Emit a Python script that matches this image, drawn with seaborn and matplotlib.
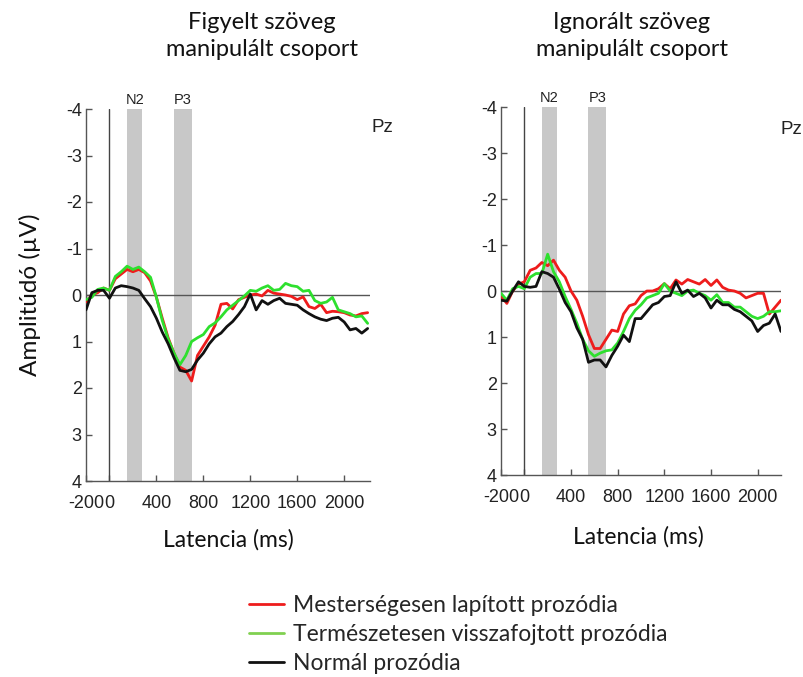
import numpy as np
import pandas as pd
import matplotlib
matplotlib.use("Agg")
import matplotlib.pyplot as plt
import seaborn as sns
from matplotlib.lines import Line2D

sns.set_theme(style="white")
plt.rcParams['axes.unicode_minus'] = False
plt.rcParams['font.family'] = ['Liberation Sans', 'DejaVu Sans']

times = list(range(-200, 2201, 50))

left_red = [0.15, 0.0, -0.05, -0.15, -0.1, -0.35, -0.45, -0.55, -0.5, -0.55, -0.48, -0.3, 0.05,
            0.5, 0.92, 1.25, 1.55, 1.62, 1.85, 1.3, 1.1, 0.9, 0.65, 0.2, 0.18, 0.3, 0.1, 0.05,
            0.0, -0.02, 0.02, -0.1, -0.04, -0.02, 0.0, 0.03, 0.1, 0.04, 0.25, 0.29, 0.2, 0.38,
            0.35, 0.36, 0.38, 0.43, 0.45, 0.4, 0.38]
left_green = [0.1, 0.05, -0.12, -0.15, -0.1, -0.4, -0.5, -0.62, -0.55, -0.6, -0.5, -0.38, 0.05,
              0.55, 0.95, 1.25, 1.5, 1.3, 1.0, 0.92, 0.85, 0.68, 0.6, 0.47, 0.32, 0.22, 0.12, 0.02,
              -0.1, -0.08, -0.15, -0.2, -0.1, -0.12, -0.25, -0.2, -0.18, -0.08, -0.1, 0.12, 0.18,
              0.15, 0.05, 0.32, 0.36, 0.4, 0.47, 0.45, 0.61]
left_black = [0.32, -0.05, -0.1, -0.1, 0.07, -0.15, -0.2, -0.18, -0.15, -0.1, 0.08, 0.25, 0.5,
              0.8, 1.05, 1.35, 1.62, 1.65, 1.6, 1.4, 1.25, 1.05, 0.9, 0.82, 0.68, 0.57, 0.42, 0.25,
              -0.02, 0.32, 0.12, 0.2, 0.12, 0.07, 0.18, 0.2, 0.22, 0.32, 0.4, 0.47, 0.52, 0.55,
              0.5, 0.48, 0.58, 0.75, 0.72, 0.82, 0.72]

right_red = [0.1, 0.27, 0.0, -0.15, -0.2, -0.45, -0.5, -0.62, -0.55, -0.67, -0.45, -0.3, 0.0,
             0.2, 0.55, 0.95, 1.25, 1.25, 1.05, 0.85, 0.88, 0.5, 0.32, 0.28, 0.1, 0.0, 0.0, -0.05,
             -0.16, -0.05, -0.24, -0.15, -0.25, -0.2, -0.15, -0.25, -0.12, -0.24, -0.08, -0.02,
             0.0, 0.05, 0.15, 0.1, 0.05, 0.05, 0.5, 0.35, 0.2]
right_green = [0.05, 0.2, -0.05, -0.1, -0.05, -0.3, -0.38, -0.38, -0.8, -0.42, -0.2, 0.12, 0.4,
               0.7, 1.05, 1.3, 1.42, 1.35, 1.3, 1.28, 1.13, 0.88, 0.6, 0.42, 0.3, 0.15, 0.1, 0.05,
               -0.16, 0.0, 0.05, 0.1, 0.0, -0.02, 0.05, 0.1, 0.2, 0.08, 0.25, 0.25, 0.35, 0.35,
               0.45, 0.55, 0.6, 0.55, 0.45, 0.45, 0.43]
right_black = [0.2, 0.22, 0.0, -0.2, -0.1, -0.08, -0.1, -0.42, -0.38, -0.3, -0.04, 0.25, 0.45,
               0.8, 1.05, 1.55, 1.5, 1.5, 1.65, 1.4, 1.2, 0.96, 1.1, 0.6, 0.6, 0.45, 0.3, 0.25,
               0.12, 0.1, -0.2, 0.05, -0.02, 0.12, 0.05, 0.15, 0.37, 0.2, 0.3, 0.3, 0.4, 0.45,
               0.55, 0.65, 0.88, 0.75, 0.7, 0.5, 0.88]

conditions = ["Mesterségesen lapított prozódia",
              "Természetesen visszafojtott prozódia",
              "Normál prozódia"]
line_colors = ["#ee1c1c", "#2ee02e", "#111111"]
legend_colors = ["#ee1c1c", "#80d050", "#111111"]
titles = ["Figyelt szöveg\nmanipulált csoport", "Ignorált szöveg\nmanipulált csoport"]
xticks = [-200, 0, 400, 800, 1200, 1600, 2000]
yticks = [-4, -3, -2, -1, 0, 1, 2, 3, 4]
bands = {"N2": (150, 280), "P3": (550, 700)}

def make_df(r, g, b):
    rows = []
    for cond, vals in zip(conditions, [r, g, b]):
        for t, v in zip(times, vals):
            rows.append({"t": t, "v": v, "cond": cond})
    return pd.DataFrame(rows)

dfs = [make_df(left_red, left_green, left_black), make_df(right_red, right_green, right_black)]

fig = plt.figure(figsize=(8.04, 6.77), dpi=100)
ax_l = fig.add_axes([86/804, 1-481/677, 284/804, 372/677])
ax_r = fig.add_axes([501/804, 1-475/677, 280/804, 368/677])
xmax = [2220, 2200]
title_x = [262/804, 632/804]
pz_pos = [(372/804, 1-127/677), (781/804, 1-130/677)]
xlabel_y = [1-540/677, 1-537/677]
xlabel_x = [228/804, 638/804]
calibri_like = ["Lato", "DejaVu Sans"]

for i, ax in enumerate([ax_l, ax_r]):
    for name, (a, b) in bands.items():
        ax.axvspan(a, b, color="#c8c8c8", lw=0, zorder=0)
        ax.text((a+b)/2, -4.05, name, ha="center", va="bottom", fontsize=10.5, color="#222222")
    ax.axvline(0, color="#444444", lw=1.0, zorder=1)
    ax.axhline(0, color="#555555", lw=1.0, zorder=1)
    sns.lineplot(data=dfs[i], x="t", y="v", hue="cond", palette=dict(zip(conditions, line_colors)),
                 hue_order=conditions, ax=ax, lw=2.0, legend=False, zorder=3)
    ax.set_xlim(-200, xmax[i])
    ax.set_ylim(4, -4)
    ax.set_xticks(xticks)
    ax.set_xticklabels([str(x) for x in xticks])
    ax.set_yticks(yticks)
    ax.set_yticklabels([str(y) for y in yticks])
    ax.tick_params(direction="in", length=4, width=1, colors="#555555", labelcolor="#222222",
                   labelsize=13, bottom=True, left=True)
    ax.tick_params(axis="y", pad=3)
    ax.tick_params(axis="x", pad=10)
    for s in ["top", "right"]:
        ax.spines[s].set_visible(False)
    for s in ["left", "bottom"]:
        ax.spines[s].set_color("#555555")
        ax.spines[s].set_linewidth(1.0)
    ax.set_xlabel("")
    ax.set_ylabel("")
    fig.text(xlabel_x[i], xlabel_y[i], "Latencia (ms)", ha="center", va="center", fontsize=16.5,
             family=calibri_like, color="#111111")
    fig.text(title_x[i], 1-36/677, titles[i], ha="center", va="center", fontsize=17,
             family=calibri_like, color="#111111", linespacing=1.3)
    fig.text(pz_pos[i][0], pz_pos[i][1], "Pz", ha="left", va="center", fontsize=13.5, color="#222222")

fig.text(30/804, 1-295/677, "Amplitúdó (µV)", ha="center", va="center", rotation=90,
         fontsize=17.5, family=calibri_like, color="#111111")

handles = [Line2D([0], [0], color=c, lw=2) for c in legend_colors]
leg = fig.legend(handles, conditions, loc="upper left", bbox_to_anchor=(228/804, 1-574/677),
                 frameon=False, handlelength=1.53, handletextpad=0.4, labelspacing=0.35,
                 prop={"family": calibri_like, "size": 16.5})

fig.savefig("out.png", dpi=100)
